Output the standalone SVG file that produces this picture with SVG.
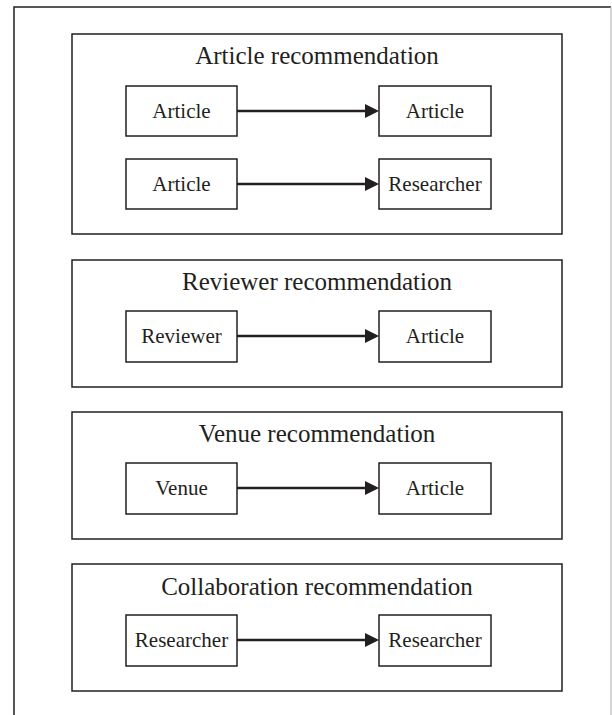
<svg xmlns="http://www.w3.org/2000/svg" width="612" height="715" viewBox="0 0 612 715">
<style>
.frame{fill:none;stroke:#231f20;stroke-width:1.5}
.grp{fill:#fff;stroke:#231f20;stroke-width:1.5}
.node{fill:#fff;stroke:#231f20;stroke-width:1.5}
.title{font-family:"Liberation Serif","Times New Roman",serif;font-size:25px;fill:#231f20;text-anchor:middle}
.lbl{font-family:"Liberation Serif","Times New Roman",serif;font-size:21px;fill:#231f20;text-anchor:middle}
.edge{stroke:#231f20;stroke-width:2.5;fill:none}
.head{fill:#231f20}
</style>
<rect width="612" height="715" fill="#fff"/>
<g id="frame">
<path class="frame" d="M14,715 V7 H611"/>
<path d="M611,7 V715" stroke="#bdbdbd" stroke-width="1.2" fill="none"/>
</g>
<g id="group-article">
<rect class="grp" x="72" y="34" width="490" height="200"/>
<text class="title" x="317" y="64">Article recommendation</text>
</g>
<g id="group-reviewer">
<rect class="grp" x="72" y="260" width="490" height="127"/>
<text class="title" x="317" y="290">Reviewer recommendation</text>
</g>
<g id="group-venue">
<rect class="grp" x="72" y="412" width="490" height="127"/>
<text class="title" x="317" y="442">Venue recommendation</text>
</g>
<g id="group-collab">
<rect class="grp" x="72" y="564" width="490" height="127"/>
<text class="title" x="317" y="595">Collaboration recommendation</text>
</g>
<g id="n1"><rect class="node" x="126" y="86" width="111" height="50"/><text class="lbl" x="181.5" y="118">Article</text></g>
<g id="n2"><rect class="node" x="379" y="86" width="112" height="50"/><text class="lbl" x="435" y="118">Article</text></g>
<g id="n3"><rect class="node" x="126" y="159" width="111" height="50"/><text class="lbl" x="181.5" y="191">Article</text></g>
<g id="n4"><rect class="node" x="379" y="159" width="112" height="50"/><text class="lbl" x="435" y="191">Researcher</text></g>
<g id="n5"><rect class="node" x="126" y="311" width="111" height="51"/><text class="lbl" x="181.5" y="343">Reviewer</text></g>
<g id="n6"><rect class="node" x="379" y="311" width="112" height="51"/><text class="lbl" x="435" y="343">Article</text></g>
<g id="n7"><rect class="node" x="126" y="463" width="111" height="51"/><text class="lbl" x="181.5" y="495">Venue</text></g>
<g id="n8"><rect class="node" x="379" y="463" width="112" height="51"/><text class="lbl" x="435" y="495">Article</text></g>
<g id="n9"><rect class="node" x="126" y="615" width="111" height="51"/><text class="lbl" x="181.5" y="647">Researcher</text></g>
<g id="n10"><rect class="node" x="379" y="615" width="112" height="51"/><text class="lbl" x="435" y="647">Researcher</text></g>
<g id="connectors">
<line class="edge" x1="237" y1="111" x2="366" y2="111"/><polygon class="head" points="365,104 379,111 365,118"/>
<line class="edge" x1="237" y1="184" x2="366" y2="184"/><polygon class="head" points="365,177 379,184 365,191"/>
<line class="edge" x1="237" y1="336" x2="366" y2="336"/><polygon class="head" points="365,329 379,336 365,343"/>
<line class="edge" x1="237" y1="488" x2="366" y2="488"/><polygon class="head" points="365,481 379,488 365,495"/>
<line class="edge" x1="237" y1="640" x2="366" y2="640"/><polygon class="head" points="365,633 379,640 365,647"/>
</g>
</svg>
